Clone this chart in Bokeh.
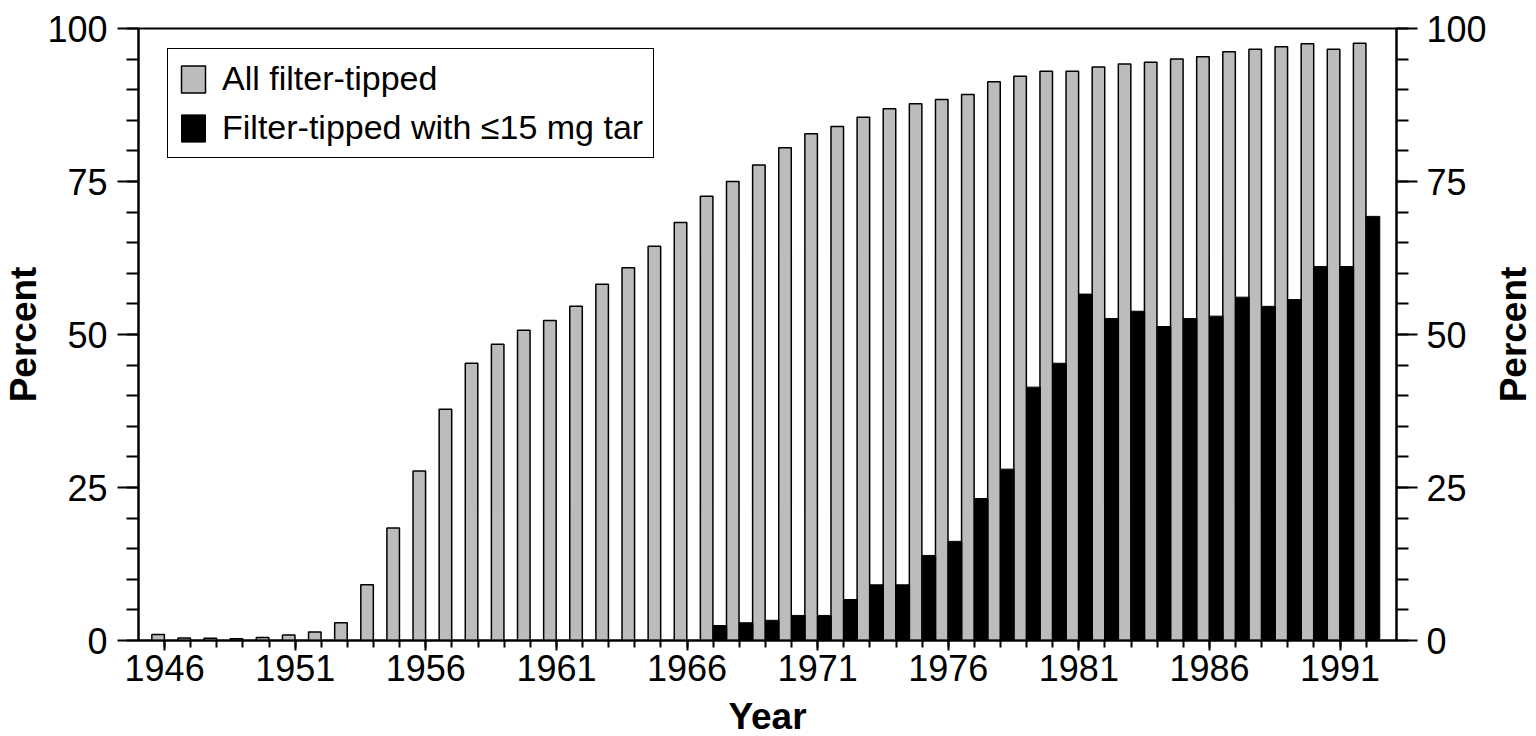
import math
from bokeh.plotting import figure
from bokeh.layouts import row, column
from bokeh.models import (ColumnDataSource, Range1d, LinearAxis, FixedTicker,
                          SingleIntervalTicker, Legend, LegendItem, Label)
from bokeh.transform import dodge
from bokeh.embed import file_html
from bokeh.resources import INLINE

# ---- data ----
years = list(range(1946, 1993))
all_filter_tipped = [1.0, 0.4, 0.35, 0.3, 0.5, 0.9, 1.4, 2.9, 9.1, 18.4,
                     27.7, 37.8, 45.3, 48.4, 50.7, 52.3, 54.6, 58.2, 60.9, 64.4,
                     68.3, 72.6, 75.0, 77.7, 80.5, 82.8, 84.0, 85.5, 86.9, 87.7,
                     88.4, 89.2, 91.3, 92.2, 93.0, 93.0, 93.7, 94.2, 94.5, 95.0,
                     95.4, 96.2, 96.6, 97.0, 97.5, 96.6, 97.6]
low_tar_years = list(range(1967, 1993))
low_tar = [2.45, 2.9, 3.3, 4.1, 4.1, 6.7, 9.1, 9.1, 13.9, 16.2,
           23.2, 28.0, 41.4, 45.3, 56.6, 52.6, 53.8, 51.3, 52.6, 53.0,
           56.1, 54.6, 55.7, 61.1, 61.1, 69.3]
x_major_ticks = list(range(1946, 1992, 5))
x_minor_ticks = list(range(1946, 1993))
series_labels = ["All filter-tipped", "Filter-tipped with \u226415 mg tar"]
x_title = "Year"
y_title = "Percent"

FONT = "Liberation Sans"

src_all = ColumnDataSource(dict(year=years, value=all_filter_tipped))
src_low = ColumnDataSource(dict(year=low_tar_years, value=low_tar))

p = figure(width=1492, height=696, output_backend="svg", toolbar_location=None,
           x_range=Range1d(1945.0, 1993.16), y_range=Range1d(0, 100),
           min_border_left=138, min_border_right=96, min_border_top=28,
           min_border_bottom=56)
p.grid.visible = False
p.outline_line_color = "black"
p.outline_line_width = 2
p.outline_line_alpha = 1.0
p.background_fill_color = "white"
p.border_fill_color = "white"

r_all = p.vbar(x=dodge("year", -0.25, range=p.x_range), top="value", width=0.48,
               bottom=0, source=src_all, fill_color="#bcbcbc",
               line_color="black", line_width=1.5)
r_low = p.vbar(x=dodge("year", 0.26, range=p.x_range), top="value", width=0.52,
               bottom=0, source=src_low, fill_color="black",
               line_color="black", line_width=1)

# x axis
xa = p.xaxis[0]
xa.ticker = FixedTicker(ticks=x_major_ticks, minor_ticks=x_minor_ticks)
xa.axis_line_width = 2
xa.major_tick_line_width = 2
xa.minor_tick_line_width = 2
xa.major_tick_out = 10
xa.major_tick_in = 0
xa.minor_tick_out = 7
xa.minor_tick_in = 0
xa.major_label_standoff = 4
xa.major_label_text_font = FONT
xa.major_label_text_font_size = "36px"
xa.major_label_text_color = "black"

# y axes
ya = p.yaxis[0]
ra = LinearAxis()
p.add_layout(ra, "right")
for ax, standoff in ((ya, 10), (ra, 9)):
    ax.ticker = SingleIntervalTicker(interval=25, num_minor_ticks=5)
    ax.axis_line_width = 2
    ax.major_tick_line_width = 2
    ax.minor_tick_line_width = 2
    ax.major_tick_out = 21
    ax.major_tick_in = 0
    ax.minor_tick_out = 12
    ax.minor_tick_in = 0
    ax.major_label_standoff = standoff
    ax.major_label_text_font = FONT
    ax.major_label_text_font_size = "36px"
    ax.major_label_text_color = "black"
ya.axis_label = y_title
ya.axis_label_standoff = 0
ya.axis_label_text_font = FONT
ya.axis_label_text_font_style = "bold"
ya.axis_label_text_font_size = "37px"
ya.axis_label_text_color = "black"

legend = Legend(items=[LegendItem(label=series_labels[0], renderers=[r_all]),
                       LegendItem(label=series_labels[1], renderers=[r_low])],
                location=(29, 482), orientation="vertical",
                label_text_font=FONT, label_text_font_size="34px",
                label_text_color="black", glyph_width=30, glyph_height=34,
                label_height=34, label_standoff=14, padding=10, spacing=10,
                margin=0, border_line_color="black", border_line_width=1.5,
                border_line_alpha=1.0,
                background_fill_color="white", background_fill_alpha=1.0)
p.add_layout(legend)

lab_kw = dict(x_units="screen", y_units="screen", text_font=FONT,
              text_font_style="bold", text_font_size="37px",
              text_color="black", text_align="center",
              text_baseline="middle")


def strip(w, h):
    s = figure(width=w, height=h, output_backend="svg", toolbar_location=None,
               x_range=Range1d(0, 1), y_range=Range1d(0, 1),
               x_axis_location=None, y_axis_location=None,
               min_border_left=0, min_border_right=0, min_border_top=0,
               min_border_bottom=0)
    s.grid.visible = False
    s.outline_line_color = None
    s.background_fill_color = "white"
    s.border_fill_color = "white"
    return s


# right strip: its frame gets aligned with the main frame (top 28, bottom 640)
right_strip = strip(44, 696)
right_strip.add_layout(Label(x=21, y=306, text=y_title, angle=math.pi / 2, **lab_kw))

bottom_strip = strip(1536, 40)
bottom_strip.add_layout(Label(x=767, y=20, text=x_title, **lab_kw))

layout = column(row(p, right_strip, spacing=0), bottom_strip, spacing=0)

open("out.html", "w").write(file_html(layout, INLINE))
